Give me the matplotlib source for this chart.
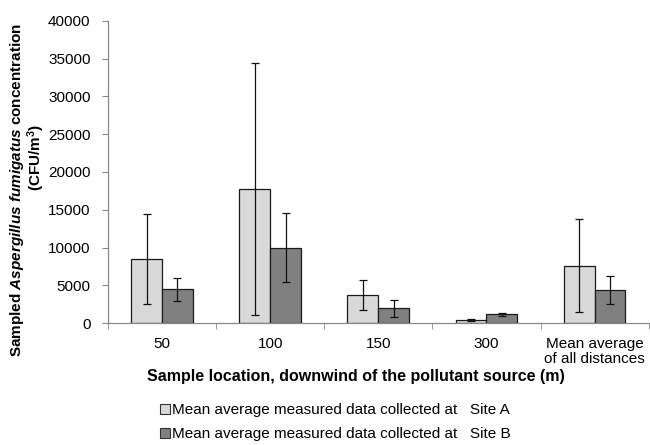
import matplotlib
matplotlib.use('Agg')
import matplotlib.pyplot as plt
import numpy as np
from matplotlib.patches import Patch

plt.rcParams['font.family'] = ['Liberation Sans', 'DejaVu Sans']
plt.rcParams['mathtext.fontset'] = 'custom'
plt.rcParams['mathtext.rm'] = 'Liberation Sans:bold'
plt.rcParams['mathtext.bf'] = 'Liberation Sans:bold'
plt.rcParams['mathtext.it'] = 'Liberation Sans:bold:italic'

categories = ['50', '100', '150', '300', 'Mean average\nof all distances']
site_a = [8500, 17750, 3750, 400, 7600]
site_a_err = [5950, 16700, 2000, 100, 6200]
site_b = [4450, 10000, 1950, 1150, 4370]
site_b_err = [1500, 4600, 1150, 200, 1850]
yticks = [0, 5000, 10000, 15000, 20000, 25000, 30000, 35000, 40000]

fig = plt.figure(figsize=(6.5, 4.45), dpi=100)
ax = fig.add_axes([0.166, 0.274, 0.832, 0.679])

x = np.arange(len(categories))
w = 0.285
ax.bar(x - w / 2, site_a, w, color='#d9d9d9', edgecolor='#1a1a1a', linewidth=0.9,
       yerr=site_a_err, error_kw=dict(ecolor='#111111', elinewidth=0.9, capsize=3, capthick=0.9))
ax.bar(x + w / 2, site_b, w, color='#808080', edgecolor='#1a1a1a', linewidth=0.9,
       yerr=site_b_err, error_kw=dict(ecolor='#111111', elinewidth=0.9, capsize=3, capthick=0.9))

ax.set_xlim(-0.5, len(categories) - 0.5)
ax.set_ylim(0, 40000)
ax.set_yticks(yticks)
ax.set_yticklabels([str(v) for v in yticks], fontsize=11)
ax.set_xticks(x)
ax.set_xticklabels(categories, fontsize=11, linespacing=1.05)
ax.set_xticks(np.arange(-0.5, len(categories)), minor=True)
ax.tick_params(axis='x', which='major', length=0, pad=10)
ax.tick_params(axis='x', which='minor', length=4, color='#888888', direction='out')
ax.tick_params(axis='y', length=4.5, color='#888888', direction='out', pad=8)

for side in ['top', 'right']:
    ax.spines[side].set_visible(False)
for side in ['left', 'bottom']:
    ax.spines[side].set_color('#888888')
    ax.spines[side].set_linewidth(0.9)

fig.text(0.026, 0.573, r'Sampled $\it{Aspergillus}$ $\it{fumigatus}$ concentration',
         rotation=90, ha='center', va='center', fontsize=11, fontweight='bold')
fig.text(0.056, 0.647, r'(CFU/m$^{3}$)', rotation=90, ha='center', va='center',
         fontsize=11, fontweight='bold')
fig.text(0.548, 0.153, 'Sample location, downwind of the pollutant source (m)',
         ha='center', va='center', fontsize=11.5, fontweight='bold')

handles = [Patch(facecolor='#d9d9d9', edgecolor='#333333', linewidth=0.8),
           Patch(facecolor='#808080', edgecolor='#333333', linewidth=0.8)]
labels = ['Mean average measured data collected at   Site A',
          'Mean average measured data collected at   Site B']
fig.legend(handles, labels, loc='upper left', bbox_to_anchor=(0.246, 0.094),
           frameon=False, fontsize=11, handlelength=0.65, handleheight=0.65,
           handletextpad=0.15, labelspacing=0.65, borderaxespad=0, borderpad=0)

fig.savefig('out.png', dpi=100)
